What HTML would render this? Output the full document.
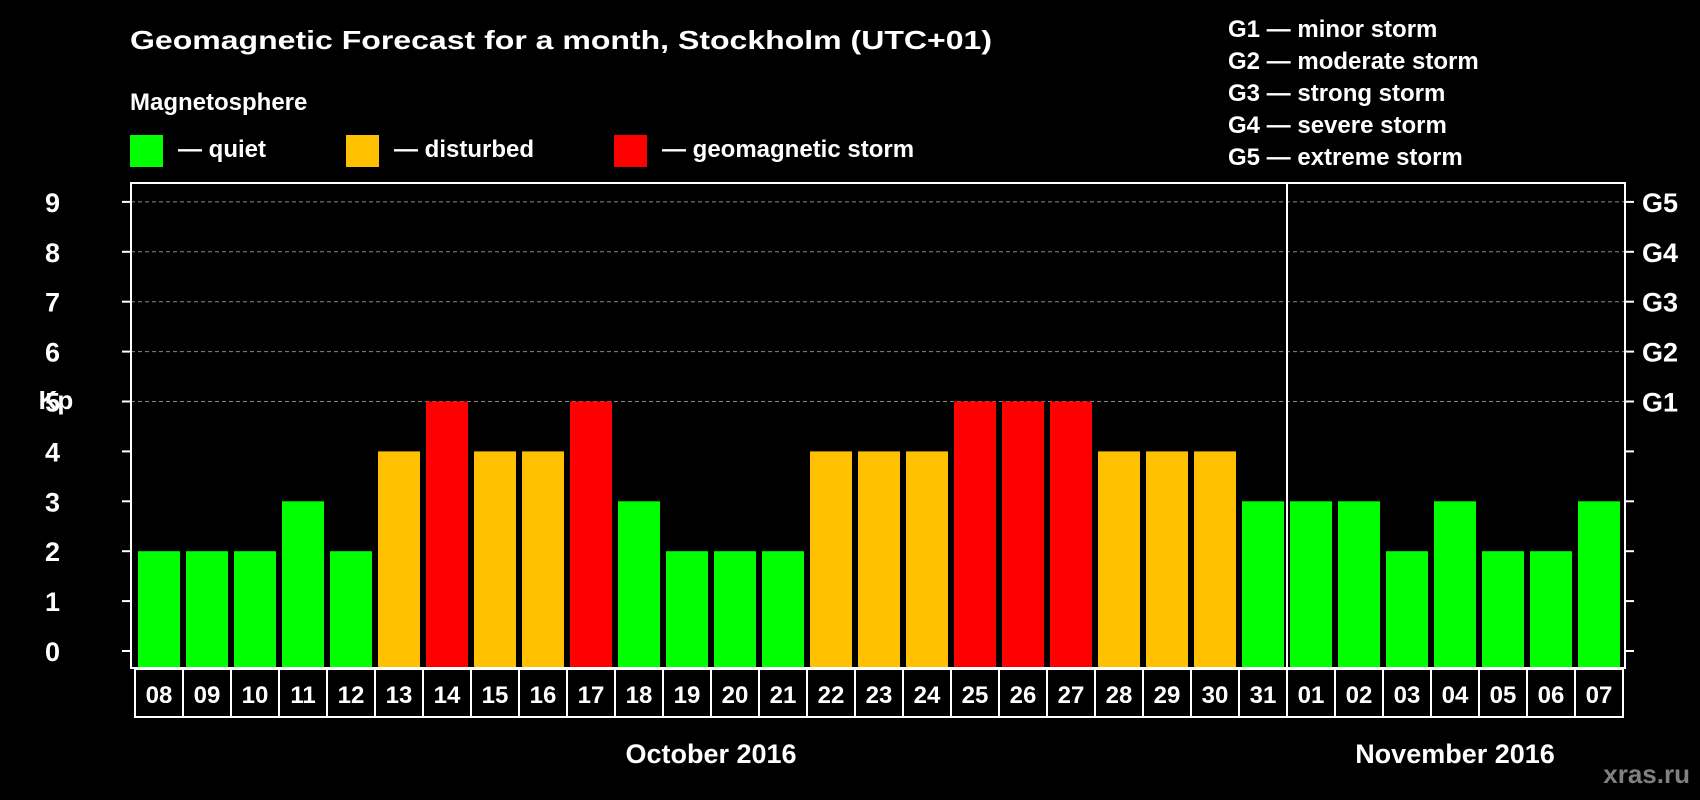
<!DOCTYPE html>
<html><head><meta charset="utf-8"><style>
html,body{margin:0;padding:0;background:#000;}
svg{display:block;font-family:"Liberation Sans",sans-serif;font-weight:bold;}
</style></head><body>
<svg id="chart" width="1700" height="800" viewBox="0 0 1700 800">
<rect width="1700" height="800" fill="#000"/>
<text x="130" y="49" fill="#fff" font-size="26" textLength="862" lengthAdjust="spacingAndGlyphs">Geomagnetic Forecast for a month, Stockholm (UTC+01)</text>
<text x="130" y="110" fill="#fff" font-size="24">Magnetosphere</text>
<g><rect x="130" y="135" width="33" height="32" fill="#00ff00"/><text x="178" y="157" fill="#fff" font-size="24">— quiet</text></g>
<g><rect x="346" y="135" width="33" height="32" fill="#ffc000"/><text x="394" y="157" fill="#fff" font-size="24">— disturbed</text></g>
<g><rect x="614" y="135" width="33" height="32" fill="#ff0000"/><text x="662" y="157" fill="#fff" font-size="24">— geomagnetic storm</text></g>
<g fill="#fff" font-size="24">
<text x="1228" y="37">G1 — minor storm</text>
<text x="1228" y="69">G2 — moderate storm</text>
<text x="1228" y="101">G3 — strong storm</text>
<text x="1228" y="133">G4 — severe storm</text>
<text x="1228" y="165">G5 — extreme storm</text>
</g>
<text x="56" y="409" fill="#fff" font-size="26" text-anchor="middle">Kp</text>
<g id="grid"></g><g id="bars"></g><g id="axes"></g><g id="dates"></g>
<text x="711" y="763" fill="#fff" font-size="27" text-anchor="middle">October 2016</text>
<text x="1455" y="763" fill="#fff" font-size="27" text-anchor="middle">November 2016</text>
<text x="1690" y="783" fill="#808080" font-size="26" text-anchor="end">xras.ru</text>
</svg>
<script>
const days = ["08","09","10","11","12","13","14","15","16","17","18","19","20","21","22","23","24","25","26","27","28","29","30","31","01","02","03","04","05","06","07"];
const kpValues = [2,2,2,3,2,4,5,4,4,5,3,2,2,2,4,4,4,5,5,5,4,4,4,3,3,3,2,3,2,2,3];
const yTicks = [0,1,2,3,4,5,6,7,8,9];
const gLabels = ["","","","","","G1","G2","G3","G4","G5"];
const NS="http://www.w3.org/2000/svg";
const L=131,R=1625,T=183,B=668,X0=135,STEP=48;
const y=v=>651-49.9*v;
const x=i=>X0+STEP*i;
function mk(tag,attrs,parent,txt){const e=document.createElementNS(NS,tag);for(const k in attrs)e.setAttribute(k,attrs[k]);if(txt!==undefined)e.textContent=txt;document.getElementById(parent).appendChild(e);return e;}
function color(v){return v>=5?"#ff0000":v>=4?"#ffc000":"#00ff00";}
yTicks.forEach(t=>{
  if(t>=5){const g=mk("line",{x1:L,x2:R,y1:y(t),y2:y(t),stroke:"#888","stroke-width":1,"stroke-dasharray":"4,3"},"grid");
    
    }
  const a=mk("line",{x1:L-9,x2:L,y1:y(t),y2:y(t),stroke:"#fff","stroke-width":2},"axes");
  
  
  const b=mk("line",{x1:R,x2:R+9,y1:y(t),y2:y(t),stroke:"#fff","stroke-width":2},"axes");
  
  
  const l=mk("text",{x:60,y:y(t)+10,fill:"#fff","font-size":27,"text-anchor":"end"},"axes",String(t));
  
  
  if(gLabels[t]){const g2=mk("text",{x:R+17,y:y(t)+10,fill:"#fff","font-size":27},"axes",gLabels[t]);
    
    }
});
kpValues.forEach((v,i)=>{
  const r=mk("rect",{x:x(i)+3,y:y(v),width:42,height:B-y(v),fill:color(v)},"bars");
  
  
  const c=mk("rect",{x:x(i),y:B+1,width:STEP,height:48,fill:"none",stroke:"#fff","stroke-width":2},"dates");
  
  
  const t=mk("text",{x:x(i)+STEP/2,y:B+35,fill:"#fff","font-size":24,"text-anchor":"middle"},"dates",days[i]);
  
  
});
const fr=mk("rect",{x:L,y:T,width:R-L,height:B-T,fill:"none",stroke:"#fff","stroke-width":2},"axes");


const div=mk("line",{x1:x(24),x2:x(24),y1:T,y2:B,stroke:"#fff","stroke-width":2},"axes");


</script>
</body></html>
